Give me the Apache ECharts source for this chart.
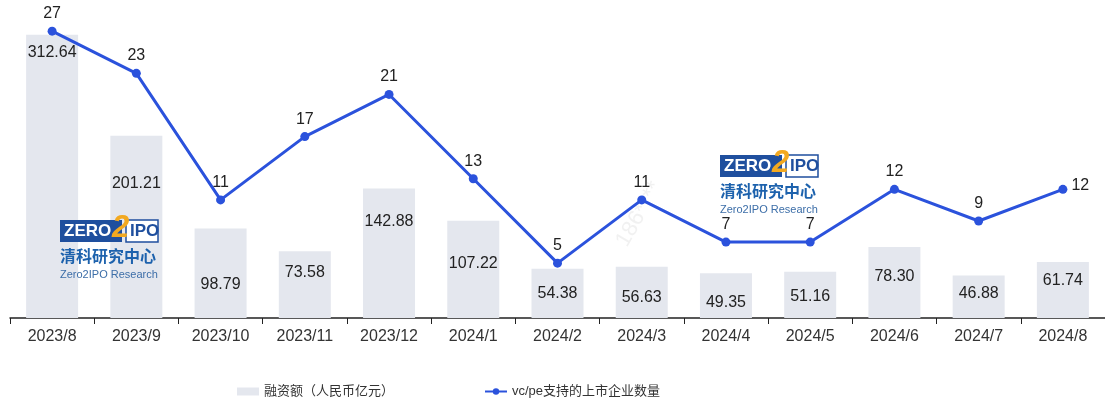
<!DOCTYPE html>
<html><head><meta charset="utf-8">
<script src="https://cdn.jsdelivr.net/npm/echarts@6/dist/echarts.min.js"></script>
<style>html,body{margin:0;padding:0;background:#fff}#c{width:1105px;height:401px}</style>
</head><body><div id="c"></div>
<script>
const categories = ['2023/8','2023/9','2023/10','2023/11','2023/12','2024/1','2024/2','2024/3','2024/4','2024/5','2024/6','2024/7','2024/8'];
const amounts = [312.64, 201.21, 98.79, 73.58, 142.88, 107.22, 54.38, 56.63, 49.35, 51.16, 78.30, 46.88, 61.74];
const counts = [27, 23, 11, 17, 21, 13, 5, 11, 7, 7, 12, 9, 12];
const seriesNames = ['融资额（人民币亿元）', 'vc/pe支持的上市企业数量'];
// label vertical offsets (px from axis) — styling only
const barLabelLift = [-265, -134, -33, -45, -96, -54, -24, -20, -15, -21, -41, -24, -37];

const FF = "'Liberation Sans', Arial, 'Noto Sans CJK SC', sans-serif";
const BLUE = '#2b52dc';

function logo(x, y) {
  return {
    type: 'group', left: x, top: y, silent: true, z: 20,
    children: [
      {type: 'rect', z: 20, shape: {x: 0, y: 0, width: 62, height: 22}, style: {fill: '#1f4f9e'}},
      {type: 'text', z: 21, x: 4, y: 3, style: {text: 'ZERO', fill: '#fff', font: "bold 17px 'Liberation Sans', Arial"}},
      {type: 'rect', z: 20, shape: {x: 66, y: 0, width: 32, height: 22}, style: {fill: '#fff', stroke: '#1f4f9e', lineWidth: 1.5}},
      {type: 'text', z: 21, x: 70, y: 3, style: {text: 'IPO', fill: '#1f4f9e', font: "bold 17px 'Liberation Sans', Arial"}},
      {type: 'text', z: 22, x: 52, y: -7, style: {text: '2', fill: '#f3a920', font: "italic bold 31px 'Liberation Sans', Arial"}},
      {type: 'text', z: 21, x: 0, y: 28, style: {text: '清科研究中心', fill: '#1d62ad', font: "bold 16px 'Noto Sans CJK SC'"}},
      {type: 'text', z: 21, x: 0, y: 49, style: {text: 'Zero2IPO Research', fill: '#3c6ea8', font: "11px 'Liberation Sans', Arial"}}
    ]
  };
}

const chart = echarts.init(document.getElementById('c'));
chart.setOption({
  animation: false,
  textStyle: {fontFamily: FF},
  grid: {left: 10, right: 0, top: 28, bottom: 83},
  legend: {
    left: 232, top: 380, itemGap: 90, itemWidth: 22, itemHeight: 8,
    textStyle: {fontSize: 13, color: '#333', fontFamily: FF},
    data: [{name: seriesNames[0], icon: 'rect'}, {name: seriesNames[1]}]
  },
  xAxis: {
    type: 'category', data: categories, boundaryGap: true,
    axisLine: {lineStyle: {color: '#222', width: 1.5}},
    axisTick: {show: true, length: 6, lineStyle: {color: '#222'}},
    axisLabel: {color: '#333', fontSize: 16, margin: 11, fontFamily: FF, interval: 0}
  },
  yAxis: [
    {type: 'value', min: 0, max: 320, show: false, splitLine: {show: false}},
    {type: 'value', min: -0.2, max: 27.3, show: false, splitLine: {show: false}}
  ],
  graphic: [
    logo(60, 213),
    logo(720, 148),
    {type: 'text', left: 612, top: 178, rotation: Math.PI / 3, silent: true, z: 20,
     style: {text: '186****', fill: 'rgba(200,200,200,0.25)', font: "22px 'Liberation Sans', Arial"}}
  ],
  series: [
    {
      name: seriesNames[0], type: 'bar', yAxisIndex: 0, barWidth: 52, z: 1,
      itemStyle: {color: '#e4e7ee'},
      data: amounts.map((v, i) => ({
        value: v,
        label: {offset: [0, barLabelLift[i]]}
      })),
      label: {
        show: true, position: 'insideBottom', distance: 0, verticalAlign: 'middle',
        color: '#222', fontSize: 16, fontFamily: FF,
        formatter: p => p.value.toFixed(2)
      }
    },
    {
      name: seriesNames[1], type: 'line', yAxisIndex: 1, z: 30,
      symbol: 'circle', symbolSize: 9,
      lineStyle: {color: BLUE, width: 3},
      itemStyle: {color: BLUE},
      data: counts.map((v, i) => i === counts.length - 1
        ? {value: v, label: {position: 'right', distance: 4, offset: [0, -4]}}
        : v),
      label: {show: true, position: 'top', distance: 5, color: '#222', fontSize: 16, fontFamily: FF}
    }
  ]
});
</script></body></html>
